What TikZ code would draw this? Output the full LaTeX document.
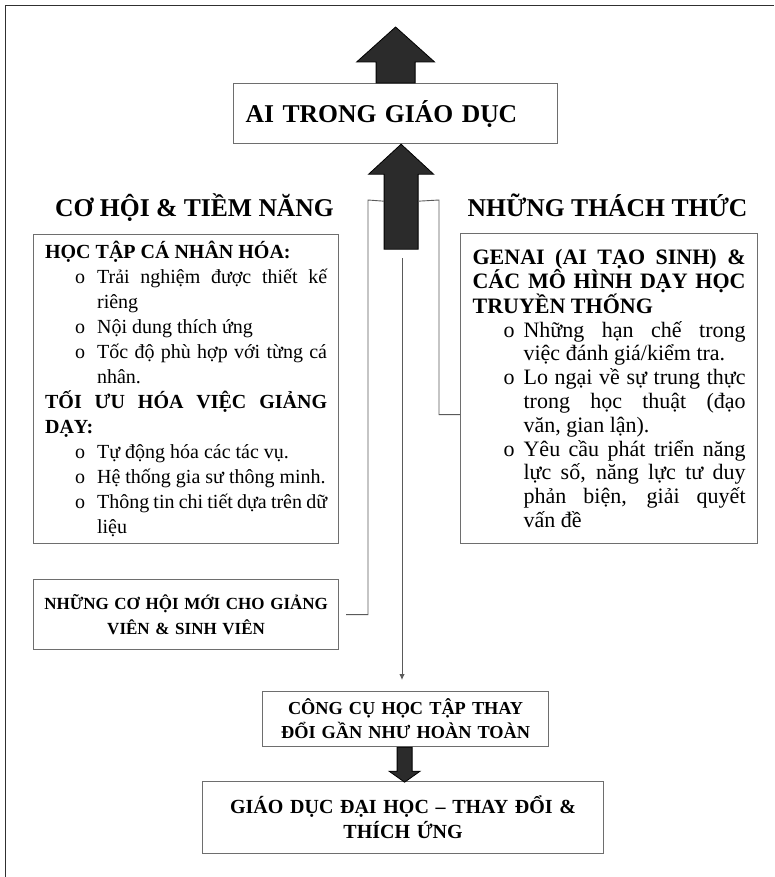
\documentclass[tikz,border=0pt]{standalone}
\usepackage{fontspec}
\setmainfont{Liberation Serif}
\usetikzlibrary{calc,arrows.meta}
\definecolor{boxgray}{HTML}{6E6E6E}
\definecolor{linegray}{HTML}{5A5A5A}
\definecolor{arrowfill}{HTML}{2B2B2B}
\definecolor{framecol}{HTML}{303030}
\newcommand\litem[1]{\par\leftskip=52pt\noindent\llap{o\hspace{12pt}}#1\par}
\newcommand\ritem[1]{\par\leftskip=51pt\noindent\llap{o\hspace{9pt}}#1\par}
\tikzset{
  box/.style={draw=boxgray, line width=1.2pt, fill=white, anchor=north west},
  conn/.style={draw=linegray, line width=0.9pt},
  blockarrow/.style={fill=arrowfill, draw=black, line width=0.8pt, line join=miter},
  title/.style={font=\fontsize{25.6}{30}\selectfont\bfseries, inner sep=0pt},
  frameline/.style={draw=framecol, line width=1.6pt},
}
\begin{document}
\begin{tikzpicture}[x=1pt,y=-1pt]
\useasboundingbox (0,0) rectangle (774,877);
\draw[frameline] (5.5,877) -- (5.5,5.5) -- (774,5.5);

% top box
\node[box, minimum width=324pt, minimum height=60pt, text width=300pt, inner xsep=12pt,
      align=left, font=\fontsize{25.6}{30}\selectfont\bfseries] (ai) at (233,83) {AI TRONG GIÁO DỤC};

% headers
\node[title, anchor=base] (hl) at (194.5,217) {CƠ HỘI \& TIỀM NĂNG};
\node[title, anchor=base] (hr) at (607.5,217) {NHỮNG THÁCH THỨC};

% left box
\node[box, minimum width=305pt, minimum height=309pt, text width=282pt, inner xsep=11.5pt,
      align=justify, font=\fontsize{20}{25}\selectfont] (lb) at (33,234) {%
\parindent=0pt\hyphenpenalty=10000\exhyphenpenalty=10000\emergencystretch=20pt
\noindent\textbf{HỌC TẬP CÁ NHÂN HÓA:}\par
\litem{Trải nghiệm được thiết kế\linebreak riêng}
\litem{Nội dung thích ứng}
\litem{Tốc độ phù hợp với từng cá\linebreak nhân.}
\leftskip=0pt\noindent\textbf{TỐI ƯU HÓA VIỆC GIẢNG DẠY:}\par
\litem{Tự động hóa các tác vụ.}
\litem{Hệ thống gia sư thông minh.}
\litem{Thông tin chi tiết dựa trên dữ\linebreak liệu}};

% right box
\node[box, minimum width=297pt, minimum height=310pt, text width=273pt, inner xsep=12pt,
      align=justify, font=\fontsize{22}{23.8}\selectfont] (rb) at (460,233) {%
\parindent=0pt\hyphenpenalty=10000\exhyphenpenalty=10000\emergencystretch=20pt
\noindent\textbf{GENAI (AI TẠO SINH) \&\linebreak CÁC MÔ HÌNH DẠY HỌC\linebreak TRUYỀN THỐNG}\par
\ritem{Những hạn chế trong\linebreak việc đánh giá/kiểm tra.}
\ritem{Lo ngại về sự trung thực\linebreak trong học thuật (đạo\linebreak văn, gian lận).}
\ritem{Yêu cầu phát triển năng\linebreak lực số, năng lực tư duy\linebreak phản biện, giải quyết\linebreak vấn đề}};

% new opportunities box
\node[box, minimum width=305pt, minimum height=70pt, text width=295pt, align=center,
      font=\fontsize{17}{25}\selectfont\bfseries] (nch) at (33,579)
      {NHỮNG CƠ HỘI MỚI CHO GIẢNG\\VIÊN \& SINH VIÊN};

% tools box
\node[box, minimum width=286pt, minimum height=55pt, text width=276pt, align=center,
      font=\fontsize{18.3}{24}\selectfont\bfseries] (cc) at (262,691)
      {CÔNG CỤ HỌC TẬP THAY\\ĐỔI GẦN NHƯ HOÀN TOÀN};

% higher education box
\node[box, minimum width=401pt, minimum height=72pt, text width=390pt, align=center,
      font=\fontsize{20}{25}\selectfont\bfseries] (gd) at (202,781)
      {GIÁO DỤC ĐẠI HỌC – THAY ĐỔI \&\\THÍCH ỨNG};

% block arrow above the title box
\draw[blockarrow] ($(ai.north)+(-19.5,0)$) -- ++(0,-21) -- ++(-19.5,0)
   -- ($(ai.north)+(0,-56)$) -- ($(ai.north)+(39,-21)$) -- ++(-19.5,0)
   -- ($(ai.north)+(19.5,0)$) -- cycle;

% block arrow into the title box
\coordinate (a2) at ($(ai.south)+(5.5,0)$);
\draw[blockarrow] (a2) -- ++(-32.5,30) -- ++(15.5,0) -- ++(0,75) -- ++(34,0)
   -- ++(0,-75) -- ++(15.5,0) -- cycle;
\coordinate (s2l) at ($(a2)+(-17,57)$);
\coordinate (s2r) at ($(a2)+(17,57)$);

% bracket connectors
\coordinate (bl) at (368,200);
\coordinate (br) at (439,200);
\draw[conn] ([xshift=7pt]nch.east) -| (bl) -- (s2l);
\draw[conn] ([yshift=-26pt]rb.west) -| (br) -- (s2r);

% thin centre arrow
\coordinate (cl) at (402,258);
\draw[conn, -{Latex[length=6pt,width=5.5pt]}, shorten >=11pt] (cl) -- (cl |- cc.north);

% block arrow between bottom boxes
\coordinate (a3) at ($(cc.south)+(-1,0)$);
\draw[blockarrow] ($(a3)+(-7.5,0)$) -- ++(0,24) -- ++(-8,0) -- ($(a3)+(0,35)$)
   -- ($(a3)+(15.5,24)$) -- ++(-8,0) -- ($(a3)+(7.5,0)$) -- cycle;
\end{tikzpicture}
\end{document}
